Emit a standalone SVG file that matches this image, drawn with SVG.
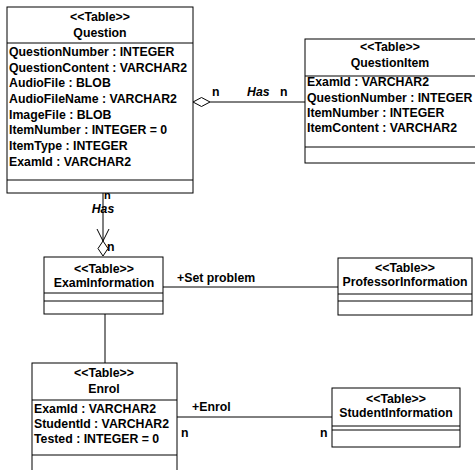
<svg xmlns="http://www.w3.org/2000/svg" width="475" height="470" viewBox="0 0 475 470">
<style>
text{font-family:"Liberation Sans",Arial,sans-serif;font-size:12.3px;font-weight:bold;fill:#000}
.c{text-anchor:middle}
.i{font-style:italic}
.s{font-size:11px}
.box{fill:#fff;stroke:#000;stroke-width:1}
.ln{stroke:#000;stroke-width:1;fill:none}
</style>
<rect width="475" height="470" fill="#fff"/>
<g id="connectors">
<line class="ln" x1="210" y1="102" x2="305" y2="102"/>
<polygon class="ln" fill="#fff" points="193,102 201.5,97.5 210,102 201.5,106.5"/>
<text x="212" y="96">n</text>
<text class="i" x="247" y="96">Has</text>
<text x="280" y="96">n</text>
<line class="ln" x1="103" y1="193" x2="103" y2="241"/>
<polyline class="ln" points="97,229 103,241 109,229"/>
<polygon class="ln" fill="#fff" points="103,241 108,248.5 103,256 98,248.5"/>
<text class="s" x="104" y="199">n</text>
<text class="i c" x="103" y="213">Has</text>
<text x="107" y="251">n</text>
<line class="ln" x1="163" y1="287" x2="338" y2="287"/>
<text x="177" y="282">+Set problem</text>
<line class="ln" x1="105" y1="314" x2="105" y2="363"/>
<line class="ln" x1="177" y1="417" x2="332" y2="417"/>
<text x="192" y="411">+Enrol</text>
<text x="181" y="437">n</text>
<text x="320" y="437">n</text>
</g>
<g id="Question">
<rect class="box" x="7" y="7" width="186" height="186"/>
<line class="ln" x1="7" y1="43" x2="193" y2="43"/>
<line class="ln" x1="7" y1="180" x2="193" y2="180"/>
<text class="c" x="100" y="21">&lt;&lt;Table&gt;&gt;</text>
<text class="c" x="100" y="37">Question</text>
<text x="9" y="56">QuestionNumber : INTEGER</text>
<text x="9" y="72">QuestionContent : VARCHAR2</text>
<text x="9" y="87">AudioFile : BLOB</text>
<text x="9" y="103">AudioFileName : VARCHAR2</text>
<text x="9" y="119">ImageFile : BLOB</text>
<text x="9" y="134">ItemNumber : INTEGER = 0</text>
<text x="9" y="150">ItemType : INTEGER</text>
<text x="9" y="166">ExamId : VARCHAR2</text>
</g>
<g id="QuestionItem">
<rect class="box" x="305" y="39" width="175" height="124"/>
<line class="ln" x1="305" y1="76" x2="475" y2="76"/>
<line class="ln" x1="305" y1="147" x2="475" y2="147"/>
<text class="c" x="390" y="51">&lt;&lt;Table&gt;&gt;</text>
<text class="c" x="390" y="67">QuestionItem</text>
<text x="307" y="86">ExamId : VARCHAR2</text>
<text x="307" y="102">QuestionNumber : INTEGER</text>
<text x="307" y="117">ItemNumber : INTEGER</text>
<text x="307" y="132">ItemContent : VARCHAR2</text>
</g>
<g id="ExamInformation">
<rect class="box" x="44" y="257" width="119" height="57"/>
<line class="ln" x1="44" y1="293" x2="163" y2="293"/>
<line class="ln" x1="44" y1="301" x2="163" y2="301"/>
<text class="c" x="104" y="273">&lt;&lt;Table&gt;&gt;</text>
<text class="c" x="104" y="287">ExamInformation</text>
</g>
<g id="ProfessorInformation">
<rect class="box" x="338" y="258" width="134" height="57"/>
<line class="ln" x1="338" y1="294" x2="472" y2="294"/>
<line class="ln" x1="338" y1="301" x2="472" y2="301"/>
<text class="c" x="405" y="272">&lt;&lt;Table&gt;&gt;</text>
<text class="c" x="405" y="286">ProfessorInformation</text>
</g>
<g id="Enrol">
<rect class="box" x="32" y="363" width="145" height="115"/>
<line class="ln" x1="32" y1="400" x2="177" y2="400"/>
<line class="ln" x1="32" y1="455" x2="177" y2="455"/>
<text class="c" x="104" y="377">&lt;&lt;Table&gt;&gt;</text>
<text class="c" x="104" y="393">Enrol</text>
<text x="34" y="413">ExamId : VARCHAR2</text>
<text x="34" y="428">StudentId : VARCHAR2</text>
<text x="34" y="443">Tested : INTEGER = 0</text>
</g>
<g id="StudentInformation">
<rect class="box" x="332" y="388" width="128" height="59"/>
<line class="ln" x1="332" y1="426" x2="460" y2="426"/>
<line class="ln" x1="332" y1="430" x2="460" y2="430"/>
<text class="c" x="396" y="403">&lt;&lt;Table&gt;&gt;</text>
<text class="c" x="396" y="417">StudentInformation</text>
</g>
</svg>
